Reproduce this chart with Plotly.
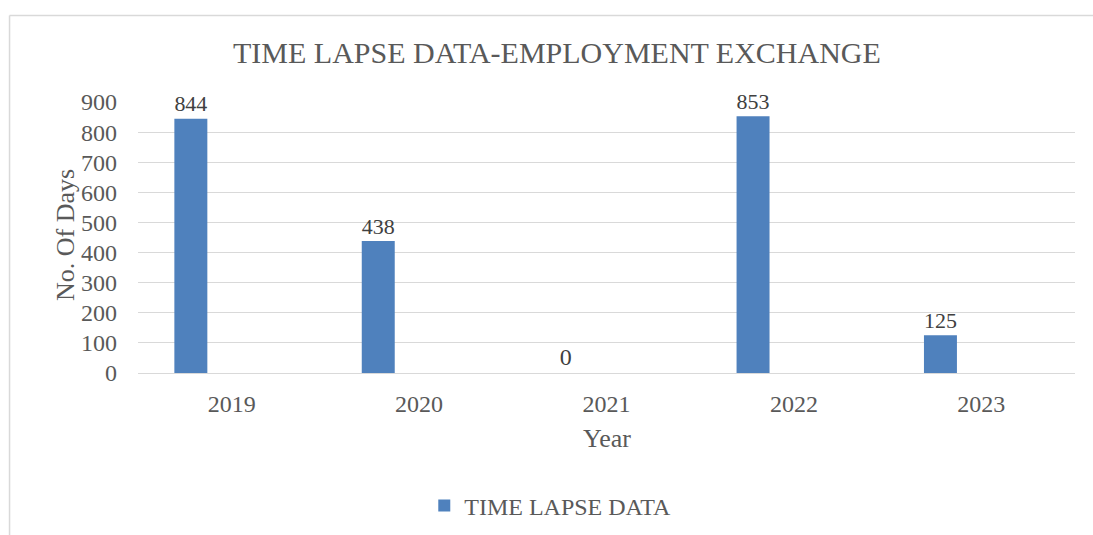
import plotly.graph_objects as go

years = ["2019", "2020", "2021", "2022", "2023"]
time_lapse_days = [844, 438, 0, 853, 125]
series_name = "TIME LAPSE DATA"
chart_title = "TIME LAPSE DATA-EMPLOYMENT EXCHANGE"
y_ticks = [0, 100, 200, 300, 400, 500, 600, 700, 800, 900]

FONT = "Liberation Serif, Times New Roman, serif"
TEXT = "#595959"
GRID = "#d9d9d9"
BAR = "#4f81bd"

fig = go.Figure()
fig.add_trace(go.Bar(
    x=years,
    y=time_lapse_days,
    name=series_name,
    marker=dict(color=BAR, line=dict(width=0)),
    width=0.176,
    offset=-0.306,
    text=[str(v) for v in time_lapse_days],
    textposition="outside",
    textfont=dict(family=FONT, size=24, color="#404040"),
    cliponaxis=False,
))

fig.update_layout(
    width=1093,
    height=535,
    margin=dict(l=138, r=18, t=102, b=162, autoexpand=False),
    paper_bgcolor="white",
    plot_bgcolor="white",
    font=dict(family=FONT, color=TEXT, size=24),
    showlegend=True,
    legend=dict(
        orientation="h",
        x=0.44, xanchor="center",
        y=-0.49, yanchor="middle",
        font=dict(family=FONT, size=24, color=TEXT),
    ),
    xaxis=dict(
        type="category",
        automargin=False,
        showgrid=False,
        showline=True,
        linecolor=GRID,
        linewidth=1,
        ticks="",
        ticklabelstandoff=9,
        tickfont=dict(family=FONT, size=24, color=TEXT),
    ),
    yaxis=dict(
        range=[0, 900],
        automargin=False,
        tickvals=y_ticks,
        showgrid=True,
        gridcolor=GRID,
        gridwidth=1,
        zeroline=False,
        showline=False,
        ticks="",
        ticklabelstandoff=20,
        tickfont=dict(family=FONT, size=24, color=TEXT),
    ),
    annotations=[
        dict(text=chart_title, x=0.4477, y=1.1845, xref="paper", yref="paper",
             xanchor="center", yanchor="middle", showarrow=False,
             font=dict(family=FONT, size=30, color=TEXT)),
        dict(text="No. Of Days", x=-0.0779, y=0.509, xref="paper", yref="paper",
             xanchor="center", yanchor="middle", showarrow=False, textangle=-90,
             font=dict(family=FONT, size=26, color=TEXT)),
        dict(text="Year", x=0.5, y=-0.24, xref="paper", yref="paper",
             xanchor="center", yanchor="middle", showarrow=False,
             font=dict(family=FONT, size=26, color=TEXT)),
    ],
    shapes=[
        dict(type="line", xref="paper", yref="paper", x0=-0.1371, x1=1.1,
             y0=1.319, y1=1.319, line=dict(color=GRID, width=1.5)),
        dict(type="line", xref="paper", yref="paper", x0=-0.1371, x1=-0.1371,
             y0=1.319, y1=-0.7, line=dict(color=GRID, width=1.5)),
    ],
)

fig.write_html("out.html")
